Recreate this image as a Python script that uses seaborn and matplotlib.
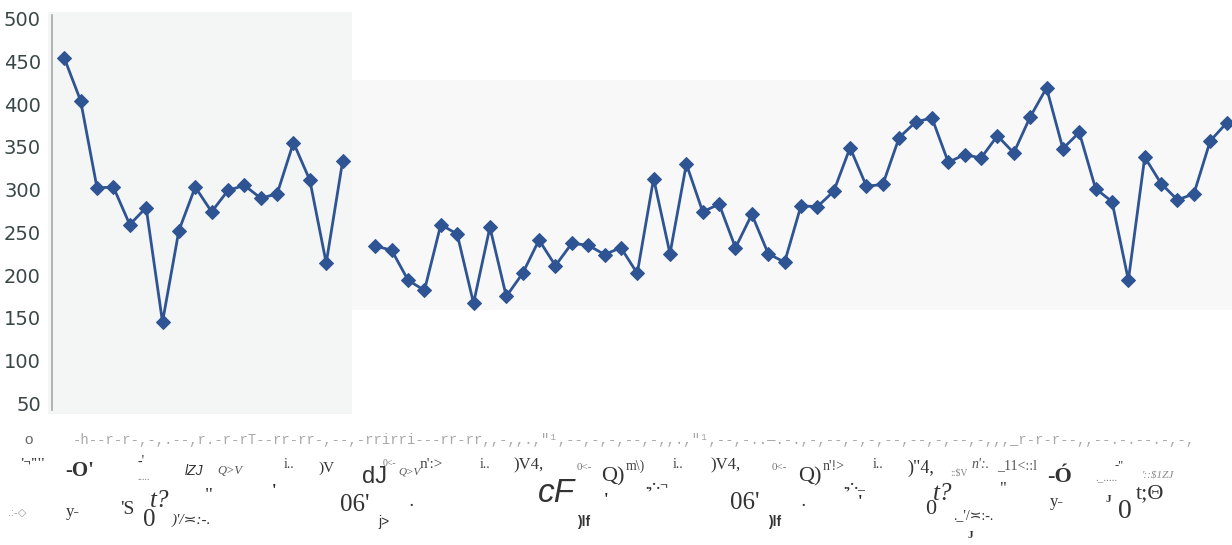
import numpy as np
import pandas as pd
import matplotlib
matplotlib.use("Agg")
import matplotlib.pyplot as plt
import seaborn as sns
from matplotlib.patches import Rectangle

# ---------------- data ----------------
values_part1 = [454, 404, 302, 303, 259, 279, 145, 252, 303, 274, 299, 305,
                290, 295, 355, 311, 214, 333]
values_gap = [np.nan]
values_part2 = [234, 229, 194, 182, 259, 248, 167, 256, 175, 202, 241, 211,
                237, 235, 224, 232, 202, 313, 225, 330, 274, 283, 232, 271,
                225, 215]
values_part3 = [281, 280, 298, 349, 304, 306, 361, 379, 384, 332, 341, 337,
                363, 343, 385, 419, 348, 367, 301, 286, 194, 338, 307, 288,
                295, 357, 378]
values = values_part1 + values_gap + values_part2 + values_part3
periods = list(range(1, len(values) + 1))
segments = ([0] * len(values_part1) + [1] * len(values_gap)
            + [1] * (len(values_part2) + len(values_part3)))
y_ticks = [50, 100, 150, 200, 250, 300, 350, 400, 450, 500]

# garbled (scanned) x-axis text, kept as real text
axis_row_text = ("-h--r-r-,-,.--,r.-r-rT--rr-rr-,--,-rrirri---rr-rr,,-,,.,\"\u00b9,--,-,-,"
                 "--,-,,.,\"\u00b9,--,-..\u2014.-.,-,--,-,-,--,--,-,--,-,,,_r-r-r--,,--.-.--.-,-,")
ocr_texts = ["o", "'\u00ac\"''", "-O'", "-'", ".....", "lZJ", "Q>V", "i..", "'",
             ".:-\u25c7", "y-", "'S", "0", "t?", ")'/\u224d:-.", "\"",
             ")V", "06'", "dJ", "0<-", "Q>V", "n':>", "i..", ")V4,", "0<-", "cF",
             ")lf", "j>", ".", "'",
             "Q)", "m\\)", ".,\u00b7.\u00ac", "i..", ")V4,", "0<-", "Q)", "n'!>", ".,\u00b7._",
             "i..", "'", "06'", ")lf", ".",
             ")\"4,", "::$V", "n':.", "_11<::l", "\"", "0", "t?", "._'/\u224d:-.", "J",
             "-\u00d3", "y-", "._.....", "-\"", "'::$1ZJ", "J", "0", "t;\u0398"]
# (x_px, y_px, size_pt, colour, family, style, weight)
ocr_layout = [
    (24, 440, 11, "#666666", "sans", "normal", "normal"),
    (20, 463, 9, "#333333", "serif", "normal", "bold"),
    (65, 471, 15, "#333333", "serif", "normal", "bold"),
    (138, 461, 10, "#333333", "serif", "normal", "normal"),
    (137, 477, 7, "#777777", "serif", "normal", "normal"),
    (185, 471, 10, "#333333", "sans", "italic", "normal"),
    (217, 471, 9, "#555555", "serif", "italic", "normal"),
    (284, 464, 10, "#444444", "serif", "normal", "normal"),
    (272, 491, 12, "#222222", "serif", "normal", "bold"),
    (8, 513, 8, "#999999", "sans", "normal", "normal"),
    (66, 512, 12, "#333333", "serif", "normal", "normal"),
    (120, 510, 14, "#333333", "serif", "normal", "normal"),
    (143, 520, 18, "#333333", "serif", "normal", "normal"),
    (150, 501, 18, "#333333", "serif", "italic", "normal"),
    (172, 520, 11, "#333333", "serif", "italic", "normal"),
    (205, 496, 14, "#333333", "serif", "normal", "normal"),
    (318, 468, 11, "#333333", "serif", "normal", "normal"),
    (340, 505, 18, "#333333", "serif", "normal", "normal"),
    (362, 477, 17, "#333333", "sans", "normal", "normal"),
    (383, 463, 7, "#777777", "serif", "normal", "normal"),
    (398, 472, 8, "#555555", "serif", "italic", "normal"),
    (420, 464, 11, "#444444", "serif", "normal", "normal"),
    (480, 464, 10, "#444444", "serif", "normal", "normal"),
    (513, 465, 12, "#333333", "serif", "normal", "normal"),
    (577, 467, 8, "#777777", "serif", "normal", "normal"),
    (538, 493, 24, "#333333", "sans", "italic", "normal"),
    (577, 522, 10, "#333333", "sans", "normal", "bold"),
    (378, 522, 10, "#333333", "sans", "normal", "normal"),
    (409, 503, 10, "#333333", "serif", "normal", "bold"),
    (604, 500, 12, "#222222", "serif", "normal", "bold"),
    (601, 477, 16, "#333333", "serif", "normal", "normal"),
    (626, 466, 10, "#444444", "serif", "normal", "normal"),
    (645, 485, 10, "#333333", "serif", "normal", "bold"),
    (673, 464, 10, "#444444", "serif", "normal", "normal"),
    (710, 465, 12, "#333333", "serif", "normal", "normal"),
    (772, 467, 8, "#777777", "serif", "normal", "normal"),
    (798, 477, 16, "#333333", "serif", "normal", "normal"),
    (823, 466, 10, "#444444", "serif", "normal", "normal"),
    (843, 485, 10, "#333333", "serif", "normal", "bold"),
    (873, 464, 10, "#444444", "serif", "normal", "normal"),
    (858, 502, 12, "#222222", "serif", "normal", "bold"),
    (730, 503, 18, "#333333", "serif", "normal", "normal"),
    (768, 522, 10, "#333333", "sans", "normal", "bold"),
    (801, 503, 10, "#333333", "serif", "normal", "bold"),
    (907, 468, 13, "#333333", "serif", "normal", "normal"),
    (950, 473, 7, "#888888", "serif", "normal", "normal"),
    (972, 465, 10, "#555555", "serif", "italic", "normal"),
    (997, 466, 10, "#555555", "serif", "normal", "normal"),
    (1000, 489, 12, "#333333", "serif", "normal", "normal"),
    (925, 510, 16, "#333333", "serif", "normal", "normal"),
    (933, 494, 18, "#333333", "serif", "italic", "normal"),
    (953, 516, 10, "#333333", "serif", "normal", "normal"),
    (968, 535, 8, "#333333", "serif", "normal", "bold"),
    (1047, 477, 16, "#333333", "serif", "normal", "bold"),
    (1050, 502, 12, "#333333", "serif", "normal", "normal"),
    (1095, 479, 8, "#777777", "serif", "normal", "normal"),
    (1115, 465, 9, "#333333", "serif", "normal", "normal"),
    (1142, 476, 8, "#888888", "serif", "italic", "normal"),
    (1106, 500, 8, "#333333", "serif", "normal", "bold"),
    (1118, 512, 20, "#333333", "serif", "normal", "normal"),
    (1136, 494, 16, "#333333", "serif", "normal", "normal"),
]

# ---------------- figure ----------------
W, H = 1232, 545
sns.set_style("white")
plt.rcParams["font.family"] = ["DejaVu Sans"]

fig = plt.figure(figsize=(W / 100, H / 100), dpi=100)
fig.patch.set_facecolor("white")

# scanned-page background patches
fig.patches.append(Rectangle((48 / W, 1 - 414 / H), (352 - 48) / W, (414 - 12) / H,
                             transform=fig.transFigure, facecolor="#f4f5f5",
                             edgecolor="none", zorder=-5))
fig.patches.append(Rectangle((352 / W, 1 - 310 / H), (W - 352) / W, (310 - 80) / H,
                             transform=fig.transFigure, facecolor="#f8f8f8",
                             edgecolor="none", zorder=-5))

ax = fig.add_axes([52 / W, 1 - 410 / H, (W - 52) / W, (410 - 14.5) / H])
ax.set_zorder(5)
ax.set_facecolor("none")

df = pd.DataFrame({"period": periods, "value": values, "segment": segments})
line_color = "#2e5493"
sns.lineplot(data=df, x="period", y="value", units="segment", estimator=None,
             sort=False, color=line_color, linewidth=2.0, marker="D",
             markersize=7.5, markeredgecolor=line_color, markerfacecolor=line_color,
             ax=ax)

ax.set_xlim(periods[0] - 0.75, periods[-1] + 0.33)
ax.set_ylim(42, 505)
ax.set_yticks(y_ticks)
ax.set_yticklabels([str(v) for v in y_ticks])
ax.set_xticks([])
ax.set_xlabel("")
ax.set_ylabel("")
for side in ["top", "right", "bottom"]:
    ax.spines[side].set_visible(False)
ax.spines["left"].set_color("#a8a8a8")
ax.spines["left"].set_linewidth(1.2)
ax.tick_params(axis="y", which="major", direction="out", length=4, width=1,
               color="#a8a8a8", pad=4, labelsize=14, labelcolor="#3b4747")

# garbled axis row
row = fig.text(73 / W, 1 - 440 / H, axis_row_text, fontsize=9,
               family=["Liberation Mono", "DejaVu Sans Mono"], color="#a8a8a8",
               ha="left", va="center")
fig.canvas.draw()
bw = row.get_window_extent().width
row.set_fontsize(9 * (1190 - 73) / bw)

fam_map = {"serif": ["Liberation Serif", "DejaVu Serif", "DejaVu Sans"],
           "sans": ["Liberation Sans", "DejaVu Sans"]}
for txt, (x, y, s, c, fam, st, wt) in zip(ocr_texts, ocr_layout):
    fig.text(x / W, 1 - y / H, txt, fontsize=s, color=c, family=fam_map[fam],
             style=st, weight=wt, ha="left", va="center")

fig.savefig("out.png", dpi=100, facecolor="white")
